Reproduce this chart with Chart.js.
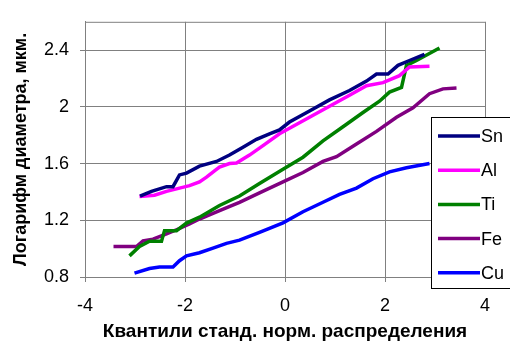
<!DOCTYPE html>
<html>
<head>
<meta charset="utf-8">
<script src="https://cdn.jsdelivr.net/npm/chart.js@4"></script>
<style>
  html, body { margin: 0; padding: 0; background: #fff; }
  #wrap { width: 510px; height: 347px; }
</style>
</head>
<body>
<div id="wrap"><canvas id="qqChart" width="510" height="347"></canvas></div>
<script>
// Данные (квантили и логарифм диаметра)
const seriesNames = ['Sn', 'Al', 'Ti', 'Fe', 'Cu'];
const seriesColors = ['#000080', '#ff00ff', '#008000', '#800080', '#0000ff'];

const snX = [-2.90, -2.67, -2.37, -2.24, -2.11, -1.97, -1.71, -1.37, -1.11, -0.84, -0.57, -0.31, -0.11, 0.09, 0.49, 0.89, 1.29, 1.63, 1.83, 2.06, 2.26, 2.49, 2.79];
const snY = [1.371, 1.404, 1.437, 1.437, 1.520, 1.533, 1.582, 1.615, 1.660, 1.715, 1.771, 1.810, 1.837, 1.893, 1.971, 2.049, 2.115, 2.182, 2.231, 2.231, 2.293, 2.327, 2.371];

const alX = [-2.91, -2.61, -2.37, -2.11, -1.91, -1.71, -1.57, -1.41, -1.31, -1.11, -0.97, -0.71, -0.44, -0.11, 0.09, 0.49, 0.89, 1.29, 1.63, 1.96, 2.29, 2.49, 2.89];
const alY = [1.367, 1.377, 1.404, 1.427, 1.444, 1.471, 1.504, 1.549, 1.575, 1.600, 1.604, 1.660, 1.727, 1.810, 1.849, 1.927, 2.004, 2.082, 2.149, 2.171, 2.220, 2.282, 2.287];

const tiX = [-3.11, -2.91, -2.71, -2.47, -2.41, -2.17, -1.97, -1.71, -1.31, -0.91, -0.51, -0.04, 0.36, 0.76, 1.16, 1.56, 1.89, 2.09, 2.33, 2.43, 2.63, 2.86, 3.09];
const tiY = [0.949, 1.015, 1.053, 1.053, 1.127, 1.127, 1.180, 1.222, 1.304, 1.371, 1.460, 1.560, 1.645, 1.760, 1.860, 1.960, 2.040, 2.104, 2.137, 2.293, 2.327, 2.371, 2.415];

const feX = [-3.43, -2.97, -2.84, -2.64, -2.37, -2.11, -1.91, -1.71, -1.44, -1.14, -0.91, -0.51, -0.04, 0.36, 0.76, 1.03, 1.43, 1.83, 2.23, 2.56, 2.89, 3.16, 3.43];
const feY = [1.015, 1.015, 1.055, 1.067, 1.104, 1.142, 1.175, 1.209, 1.249, 1.293, 1.327, 1.393, 1.471, 1.537, 1.615, 1.649, 1.738, 1.827, 1.927, 1.993, 2.093, 2.127, 2.133];

const cuX = [-3.01, -2.71, -2.51, -2.24, -2.11, -1.97, -1.71, -1.44, -1.17, -0.91, -0.51, -0.04, 0.36, 0.76, 1.09, 1.43, 1.76, 2.09, 2.43, 2.89];
const cuY = [0.827, 0.860, 0.871, 0.871, 0.915, 0.949, 0.971, 1.004, 1.037, 1.060, 1.115, 1.182, 1.260, 1.327, 1.382, 1.427, 1.493, 1.542, 1.571, 1.600];

const xTicks = [-4, -2, 0, 2, 4];
const yTicks = [0.8, 1.2, 1.6, 2.0, 2.4];

const xTitle = 'Квантили станд. норм. распределения';
const yTitle = 'Логарифм диаметра, мкм.';

const allX = [snX, alX, tiX, feX, cuX];
const allY = [snY, alY, tiY, feY, cuY];

const FONT = '"Liberation Sans", Arial, sans-serif';
const GRID = '#808080';

// Рамка области построения + легенда в стиле Excel
const excelFrame = {
    id: 'excelFrame',
    beforeDatasetsDraw(chart) {
        const { ctx, chartArea: a } = chart;
        ctx.save();
        ctx.strokeStyle = GRID;
        ctx.lineWidth = 1;
        ctx.beginPath();
        ctx.moveTo(a.left, a.top + 0.5);
        ctx.lineTo(a.right + 0.5, a.top + 0.5);
        ctx.lineTo(a.right + 0.5, a.bottom);
        ctx.stroke();
        ctx.restore();
    },
    afterDraw(chart) {
        const { ctx } = chart;
        const box = { x: 431.5, y: 117.5, w: 90, h: 171 };
        ctx.save();
        ctx.fillStyle = '#fff';
        ctx.fillRect(box.x, box.y, box.w, box.h);
        ctx.strokeStyle = '#000';
        ctx.lineWidth = 1;
        ctx.strokeRect(box.x, box.y, box.w, box.h);
        ctx.font = '18px ' + FONT;
        ctx.textBaseline = 'middle';
        ctx.textAlign = 'left';
        chart.data.datasets.forEach((ds, i) => {
            const y = 136 + i * 34.2;
            ctx.strokeStyle = ds.borderColor;
            ctx.lineWidth = 3.5;
            ctx.beginPath();
            ctx.moveTo(438, y);
            ctx.lineTo(480, y);
            ctx.stroke();
            ctx.fillStyle = '#000';
            ctx.fillText(ds.label, 481, y + 1);
        });
        ctx.restore();
    }
};

const fmt = v => String(Math.round(v * 10) / 10);

new Chart(document.getElementById('qqChart'), {
    type: 'scatter',
    data: {
        datasets: seriesNames.map((name, i) => ({
            label: name,
            data: allX[i].map((x, j) => ({ x: x, y: allY[i][j] })),
            showLine: true,
            borderColor: seriesColors[i],
            backgroundColor: seriesColors[i],
            borderWidth: 3.5,
            pointRadius: 0,
            tension: 0
        }))
    },
    options: {
        responsive: false,
        animation: false,
        layout: { padding: { left: 0, top: 7, right: 25, bottom: 0 } },
        plugins: { legend: { display: false }, tooltip: { enabled: false } },
        scales: {
            x: {
                type: 'linear',
                min: -4,
                max: 4,
                afterFit: s => { s.height = 70; },
                afterBuildTicks: s => { s.ticks = xTicks.map(v => ({ value: v })); },
                ticks: { color: '#000', font: { family: FONT, size: 18 }, padding: 13, maxRotation: 0, callback: fmt },
                grid: { color: GRID, tickLength: 5, tickColor: GRID },
                border: { color: GRID },
                title: {
                    display: true,
                    text: xTitle,
                    color: '#000',
                    font: { family: FONT, size: 19, weight: 'bold' },
                    padding: { top: 0, bottom: 4 }
                }
            },
            y: {
                type: 'linear',
                min: 0.8,
                max: 2.6,
                afterFit: s => { s.width = 85; },
                afterBuildTicks: s => { s.ticks = yTicks.map(v => ({ value: v })); },
                ticks: { color: '#000', font: { family: FONT, size: 18 }, padding: 11, callback: fmt },
                grid: { color: GRID, tickLength: 5, tickColor: GRID },
                border: { color: GRID },
                title: {
                    display: true,
                    text: yTitle,
                    color: '#000',
                    font: { family: FONT, size: 18, weight: 'bold' },
                    padding: { top: 10, bottom: 0 }
                }
            }
        }
    },
    plugins: [excelFrame]
});
</script>
</body>
</html>
